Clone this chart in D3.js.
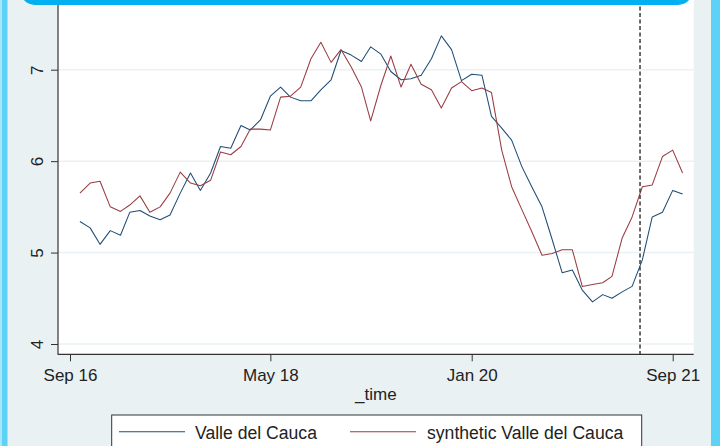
<!DOCTYPE html>
<html>
<head>
<meta charset="utf-8">
<script src="https://cdn.jsdelivr.net/npm/d3@7"></script>
<style>
  html, body { margin: 0; padding: 0; background: #eaf1f3; }
  svg { display: block; font-family: "Liberation Sans", Arial, sans-serif; }
</style>
</head>
<body>
<svg id="chart" width="720" height="446"></svg>
<script>
// monthly series, Oct 2016 .. Oct 2021
const firstMonth = new Date(2016, 9, 1);
const lastMonth = new Date(2021, 9, 1);

const valleDelCauca = [
  5.34, 5.27, 5.09,
  5.24, 5.19, 5.44, 5.46, 5.40, 5.36, 5.41, 5.65, 5.87, 5.68, 5.87, 6.16,
  6.14, 6.39, 6.34, 6.45, 6.71, 6.81, 6.70, 6.66, 6.66, 6.78, 6.89, 7.21,
  7.16, 7.09, 7.25, 7.17, 6.98, 6.89, 6.90, 6.94, 7.12, 7.37, 7.22, 6.88,
  6.95, 6.94, 6.49, 6.36, 6.23, 5.94, 5.72, 5.50, 5.14, 4.78, 4.81, 4.59,
  4.46, 4.54, 4.50, 4.57, 4.63, 4.92, 5.39, 5.44, 5.68, 5.64
];

const syntheticValle = [
  5.65, 5.76, 5.78,
  5.50, 5.45, 5.52, 5.62, 5.44, 5.50, 5.65, 5.88, 5.76, 5.73, 5.79, 6.10,
  6.07, 6.16, 6.35, 6.35, 6.34, 6.70, 6.71, 6.81, 7.12, 7.30, 7.08, 7.22,
  7.03, 6.81, 6.44, 6.83, 7.15, 6.81, 7.06, 6.84, 6.78, 6.58, 6.80, 6.87,
  6.77, 6.80, 6.75, 6.12, 5.72, 5.47, 5.23, 4.97, 4.99, 5.03, 5.03, 4.63,
  4.65, 4.67, 4.74, 5.16, 5.39, 5.72, 5.74, 6.05, 6.12, 5.87
];

const xTickDates = [new Date(2016, 8, 1), new Date(2018, 4, 1), new Date(2020, 0, 1), new Date(2021, 8, 1)];
const xTickLabels = ['Sep 16', 'May 18', 'Jan 20', 'Sep 21'];
const yTicks = [4, 5, 6, 7];
const treatmentDate = new Date(2021, 4, 25);
const seriesNames = ['Valle del Cauca', 'synthetic Valle del Cauca'];
const seriesColors = ['#1f4c75', '#993c42'];

const months = d3.timeMonth.range(firstMonth, d3.timeMonth.offset(lastMonth, 1));

const plot = { left: 58, right: 693.7, top: 0, bottom: 354.3 };

const svg = d3.select('#chart');

// outer frame
svg.append('rect').attr('x', 0).attr('y', 0).attr('width', 720).attr('height', 446).attr('fill', '#eaf1f3');
svg.append('rect').attr('x', 0).attr('y', 0).attr('width', 2).attr('height', 446).attr('fill', '#a8e6fa');
svg.append('rect').attr('x', 2).attr('y', 0).attr('width', 5.5).attr('height', 446).attr('fill', '#5cd2f7');
svg.append('rect').attr('x', 711).attr('y', 0).attr('width', 9).attr('height', 446).attr('fill', '#5cd2f7');

// plot region
svg.append('rect')
  .attr('x', plot.left).attr('y', plot.top)
  .attr('width', plot.right - plot.left).attr('height', plot.bottom - plot.top)
  .attr('fill', '#ffffff');

const x = d3.scaleTime()
  .domain([xTickDates[0], xTickDates[3]])
  .range([70, 672.7]);

const y = d3.scaleLinear()
  .domain([4, 7])
  .range([344, 69.7]);

// gridlines
svg.append('g').selectAll('line')
  .data(yTicks)
  .enter().append('line')
  .attr('x1', plot.left).attr('x2', plot.right)
  .attr('y1', d => y(d)).attr('y2', d => y(d))
  .attr('stroke', '#eaf1f4')
  .attr('stroke-width', 1.5);

// lines
const line = d3.line()
  .x((d, i) => x(months[i]))
  .y(d => y(d));

[valleDelCauca, syntheticValle].forEach((series, k) => {
  svg.append('path')
    .datum(series)
    .attr('fill', 'none')
    .attr('stroke', seriesColors[k])
    .attr('stroke-width', 1.05)
    .attr('stroke-linejoin', 'round')
    .attr('d', line);
});

// treatment line
svg.append('line')
  .attr('x1', x(treatmentDate)).attr('x2', x(treatmentDate))
  .attr('y1', plot.top).attr('y2', plot.bottom)
  .attr('stroke', '#3a3a3a')
  .attr('stroke-width', 1.5)
  .attr('stroke-dasharray', '4,2.5');

// axes
const xAxis = svg.append('g')
  .attr('transform', 'translate(0,' + plot.bottom + ')')
  .call(d3.axisBottom(x).tickValues(xTickDates).tickFormat((d, i) => xTickLabels[i]).tickSize(7).tickPadding(8));
xAxis.select('.domain').remove();
xAxis.selectAll('line').attr('stroke', '#333');
xAxis.selectAll('text').attr('font-size', 17).attr('fill', '#222').style('font-family', '"Liberation Sans", Arial, sans-serif');

const yAxis = svg.append('g')
  .attr('transform', 'translate(' + plot.left + ',0)')
  .call(d3.axisLeft(y).tickValues(yTicks).tickFormat(d3.format('d')).tickSize(7));
yAxis.select('.domain').remove();
yAxis.selectAll('line').attr('stroke', '#333');
yAxis.selectAll('text')
  .attr('x', 0).attr('dy', 0)
  .attr('text-anchor', 'middle')
  .attr('transform', 'translate(-15,0) rotate(-90)')
  .attr('font-size', 17).attr('fill', '#222')
  .style('font-family', '"Liberation Sans", Arial, sans-serif');

svg.append('line')
  .attr('x1', plot.left).attr('x2', plot.left)
  .attr('y1', plot.top).attr('y2', plot.bottom + 0.5)
  .attr('stroke', '#333').attr('stroke-width', 1.2);
svg.append('line')
  .attr('x1', plot.left).attr('x2', plot.right)
  .attr('y1', plot.bottom).attr('y2', plot.bottom)
  .attr('stroke', '#333').attr('stroke-width', 1.2);

// axis title
svg.append('text')
  .attr('x', (plot.left + plot.right) / 2).attr('y', 400)
  .attr('text-anchor', 'middle')
  .attr('font-size', 17).attr('fill', '#222')
  .text('_time');

// top banner
svg.append('rect')
  .attr('x', 20).attr('y', -30).attr('width', 673).attr('height', 35)
  .attr('rx', 15).attr('fill', '#00b0f0');

// legend
const legend = svg.append('g');
legend.append('rect')
  .attr('x', 111.7).attr('y', 415).attr('width', 530).attr('height', 50)
  .attr('fill', '#ffffff').attr('stroke', '#333').attr('stroke-width', 1);

const legendItems = [
  { x1: 119, x2: 185, tx: 195 },
  { x1: 350, x2: 416, tx: 427 }
];
legendItems.forEach((it, k) => {
  legend.append('line')
    .attr('x1', it.x1).attr('x2', it.x2)
    .attr('y1', 431.7).attr('y2', 431.7)
    .attr('stroke', seriesColors[k]).attr('stroke-width', 1.1);
  legend.append('text')
    .attr('x', it.tx).attr('y', 438.5)
    .attr('font-size', 17.6).attr('fill', '#222')
    .text(seriesNames[k]);
});
</script>
</body>
</html>
